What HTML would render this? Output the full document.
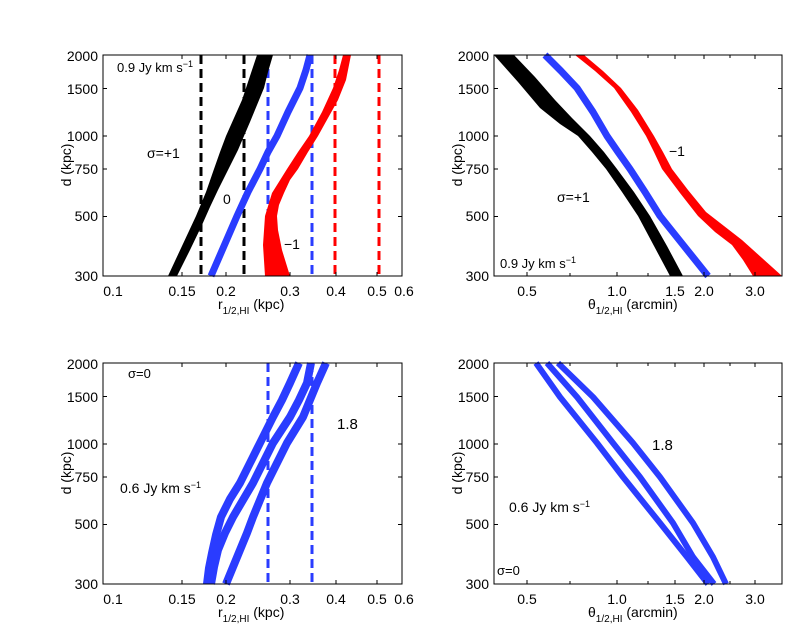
<!DOCTYPE html>
<html><head><meta charset="utf-8"><style>
body{margin:0;background:#fff}
svg{display:block;font-family:"Liberation Sans",sans-serif}
</style></head><body>
<svg width="789" height="633" viewBox="0 0 789 633" xmlns="http://www.w3.org/2000/svg">
<defs>
<g id="yt" font-size="14" text-anchor="end">
<text x="0" y="61">2000</text><text x="0" y="94">1500</text><text x="0" y="141">1000</text><text x="0" y="174">750</text><text x="0" y="221">500</text><text x="0" y="281">300</text>
</g>
</defs>
<rect width="789" height="633" fill="#fff"/>

<!-- TOP LEFT -->
<g>
<line x1="201" y1="55" x2="201" y2="276" stroke="#000" stroke-width="3" stroke-dasharray="9,5"/>
<line x1="244" y1="55" x2="244" y2="276" stroke="#000" stroke-width="3" stroke-dasharray="9,5"/>
<line x1="268" y1="55" x2="268" y2="276" stroke="#2a3cff" stroke-width="3" stroke-dasharray="9,5"/>
<line x1="312" y1="55" x2="312" y2="276" stroke="#2a3cff" stroke-width="3" stroke-dasharray="9,5"/>
<line x1="335" y1="55" x2="335" y2="276" stroke="#f00" stroke-width="3" stroke-dasharray="9,5"/>
<line x1="379" y1="55" x2="379" y2="276" stroke="#f00" stroke-width="3" stroke-dasharray="9,5"/>
<polygon fill="#000" points="168,276 182,246 196,216 206,192 214,169 220,152 226,136 234,118 242,100 250,76 257,55 273,55 268,72 264,88 257,105 250,122 244,136 238,150 228,170 218,190 210,207 202,225 190,250 177,276"/>
<polyline fill="none" stroke="#2a3cff" stroke-width="7" stroke-linejoin="round" points="211,276 224,246 237,216 248,192 260,169 268,152 277,136 288,112 300,88 306,70 310,55"/>
<polygon fill="#f00" points="265,276 263,245 265,216 272,193 287,169 298,152 309,136 322,112 333,88 339,70 343,55 351,55 348,70 346,80 338,100 328,118 318,136 308,152 298,169 290,180 284,193 279,205 277,216 278,230 282,250 290,276"/>
<rect x="103" y="55" width="299" height="221" fill="none" stroke="#000" stroke-width="1"/>
<g stroke="#000" stroke-width="1">
<path d="M103,88.5h4M103,136h4M103,169h4M103,216.5h4M402,88.5h-4M402,136h-4M402,169h-4M402,216.5h-4"/>
<path d="M182,276v-4M226,276v-4M290,276v-4M336,276v-4M377,276v-4M182,55v4M226,55v4M290,55v4M336,55v4M377,55v4"/>
</g>
<use href="#yt" x="98"/>
<g font-size="14" text-anchor="middle">
<text x="113" y="296">0.1</text><text x="182" y="296">0.15</text><text x="226" y="296">0.2</text><text x="290" y="296">0.3</text><text x="336" y="296">0.4</text><text x="377" y="296">0.5</text><text x="404" y="296">0.6</text>
</g>
<text x="218" y="309" font-size="14">r<tspan font-size="10" dy="5">1/2,HI</tspan><tspan dy="-5"> (kpc)</tspan></text>
<text transform="translate(71,165) rotate(-90)" font-size="14" text-anchor="middle">d (kpc)</text>
<text x="117" y="72" font-size="13">0.9 Jy km s<tspan font-size="9" dy="-5">−1</tspan></text>
<text x="147" y="158" font-size="14">σ=+1</text>
<text x="223" y="204" font-size="14">0</text>
<text x="284" y="249" font-size="14">−1</text>
</g>

<!-- TOP RIGHT -->
<g>
<polygon fill="#000" points="494,55 518,82 540,108 560,124 578,136 592,152 606,169 622,192 638,216 654,246 670,276 683,276 667,246 650,216 634,192 617,169 604,152 590,136 572,118 555,100 535,77 514,55"/>
<polyline fill="none" stroke="#2a3cff" stroke-width="7" stroke-linejoin="round" points="545,55 561,71 577,88 593,112 607,136 618,152 630,169 645,192 660,216 684,246 708,276"/>
<polygon fill="#f00" points="575,55 595,71 614,88 631,112 646,136 654,152 662,169 680,193 698,216 715,232 732,245 743,260 753,276 782,276 762,258 742,240 724,226 706,212 688,190 672,169 663,152 654,136 638,110 621,88 603,71 584,55"/>
<rect x="494" y="55" width="288" height="221" fill="none" stroke="#000"/>
<g stroke="#000">
<path d="M494,88.5h4M494,136h4M494,169h4M494,216.5h4M782,88.5h-4M782,136h-4M782,169h-4M782,216.5h-4"/>
<path d="M527,276v-4M617,276v-4M675,276v-4M704,276v-4M755,276v-4M527,55v4M617,55v4M675,55v4M704,55v4M755,55v4M570,276v-3M648,276v-3M730,276v-3M570,55v3M648,55v3M730,55v3"/>
</g>
<use href="#yt" x="489"/>
<g font-size="14" text-anchor="middle">
<text x="527" y="296">0.5</text><text x="617" y="296">1.0</text><text x="675" y="296">1.5</text><text x="704" y="296">2.0</text><text x="755" y="296">3.0</text>
</g>
<text x="588" y="309" font-size="14">θ<tspan font-size="10" dy="5">1/2,HI</tspan><tspan dy="-5"> (arcmin)</tspan></text>
<text transform="translate(462,165) rotate(-90)" font-size="14" text-anchor="middle">d (kpc)</text>
<text x="500" y="268" font-size="13">0.9 Jy km s<tspan font-size="9" dy="-5">−1</tspan></text>
<text x="557" y="202" font-size="14">σ=+1</text>
<text x="669" y="156" font-size="14">−1</text>
</g>

<!-- BOTTOM LEFT -->
<g>
<line x1="268" y1="363" x2="268" y2="584" stroke="#2a3cff" stroke-width="3" stroke-dasharray="9,5"/>
<line x1="312" y1="363" x2="312" y2="584" stroke="#2a3cff" stroke-width="3" stroke-dasharray="9,5"/>
<g fill="none" stroke="#2a3cff" stroke-width="8" stroke-linejoin="round">
<polyline points="207,584 209,568 212,553 216,535 221,517 230,499 240,483 250,463 260,443 273,417 282,400 290,383 299,363"/>
<polyline points="211,584 214,567 218,550 225,533 233,517 243,500 253,483 263,463 273,443 290,417 299,400 307,383 311,363"/>
<polyline points="226,584 233,567 240,550 247,533 253,517 260,500 267,483 277,463 287,443 303,417 310,400 317,383 326,363"/>
</g>
<rect x="103" y="363" width="299" height="221" fill="none" stroke="#000"/>
<g stroke="#000">
<path d="M103,396.5h4M103,444h4M103,477h4M103,524.5h4M402,396.5h-4M402,444h-4M402,477h-4M402,524.5h-4"/>
<path d="M182,584v-4M226,584v-4M290,584v-4M336,584v-4M377,584v-4M182,363v4M226,363v4M290,363v4M336,363v4M377,363v4"/>
</g>
<use href="#yt" x="98" y="308"/>
<g font-size="14" text-anchor="middle">
<text x="113" y="604">0.1</text><text x="182" y="604">0.15</text><text x="226" y="604">0.2</text><text x="290" y="604">0.3</text><text x="336" y="604">0.4</text><text x="377" y="604">0.5</text><text x="404" y="604">0.6</text>
</g>
<text x="218" y="617" font-size="14">r<tspan font-size="10" dy="5">1/2,HI</tspan><tspan dy="-5"> (kpc)</tspan></text>
<text transform="translate(71,473) rotate(-90)" font-size="14" text-anchor="middle">d (kpc)</text>
<text x="128" y="378" font-size="13">σ=0</text>
<text x="337" y="429" font-size="15">1.8</text>
<text x="120" y="493" font-size="14">0.6 Jy km s<tspan font-size="9" dy="-5">−1</tspan></text>
</g>

<!-- BOTTOM RIGHT -->
<g>
<g fill="none" stroke="#2a3cff" stroke-width="6" stroke-linejoin="round">
<polyline points="536,363 560,397 597,443 623,477 660,523 687,557 708,584"/>
<polyline points="547,363 577,397 613,443 640,477 673,523 693,557 714,584"/>
<polyline points="558,363 593,397 633,443 660,477 693,523 713,557 726,584"/>
</g>
<rect x="494" y="363" width="288" height="221" fill="none" stroke="#000"/>
<g stroke="#000">
<path d="M494,396.5h4M494,444h4M494,477h4M494,524.5h4M782,396.5h-4M782,444h-4M782,477h-4M782,524.5h-4"/>
<path d="M527,584v-4M617,584v-4M675,584v-4M704,584v-4M755,584v-4M527,363v4M617,363v4M675,363v4M704,363v4M755,363v4M570,584v-3M648,584v-3M730,584v-3M570,363v3M648,363v3M730,363v3"/>
</g>
<use href="#yt" x="489" y="308"/>
<g font-size="14" text-anchor="middle">
<text x="527" y="604">0.5</text><text x="617" y="604">1.0</text><text x="675" y="604">1.5</text><text x="704" y="604">2.0</text><text x="755" y="604">3.0</text>
</g>
<text x="588" y="617" font-size="14">θ<tspan font-size="10" dy="5">1/2,HI</tspan><tspan dy="-5"> (arcmin)</tspan></text>
<text transform="translate(462,473) rotate(-90)" font-size="14" text-anchor="middle">d (kpc)</text>
<text x="652" y="450" font-size="15">1.8</text>
<text x="509" y="512" font-size="14">0.6 Jy km s<tspan font-size="9" dy="-5">−1</tspan></text>
<text x="497" y="575" font-size="13">σ=0</text>
</g>
</svg>
</body></html>
